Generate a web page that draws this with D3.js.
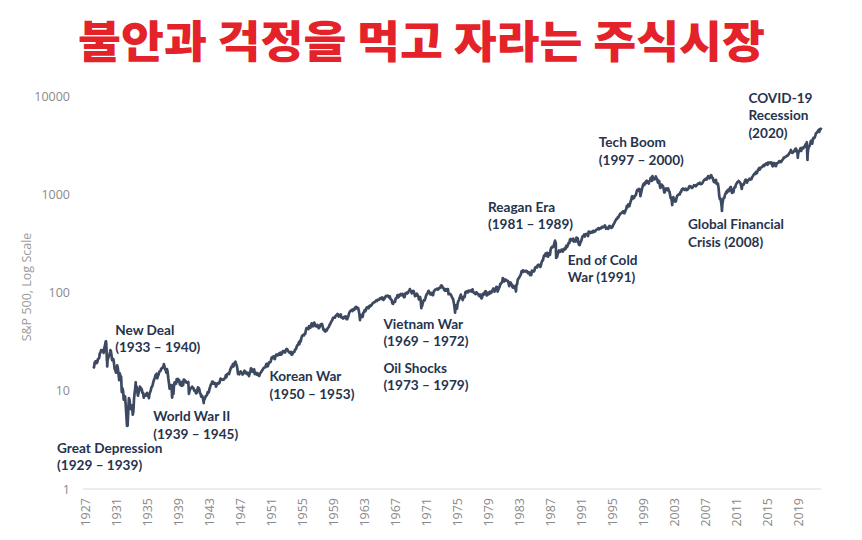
<!DOCTYPE html>
<html><head><meta charset="utf-8">
<script src="https://cdn.jsdelivr.net/npm/d3@7"></script>
<style>html,body{margin:0;padding:0;background:#fff;} svg{display:block}</style>
</head><body><svg id="chart" width="862" height="540"></svg>
<script>
// ---------------- DATA ----------------
const chartTitle = "불안과 걱정을 먹고 자라는 주식시장";
const yAxisTitle = "S&P 500, Log Scale";
const yTickValues = [1, 10, 100, 1000, 10000];
const xTickLabels = ["1927","1931","1935","1939","1943","1947","1951","1955","1959","1963","1967","1971",
  "1975","1979","1983","1987","1991","1995","1999","2003","2007","2011","2015","2019"];

// first observation
const firstDate = "1927-12-30";
const firstValue = 17.66;

// month-end closes, each block starting in January of its start year
const monthly1920s = [ // from 1928
  17.6,17.3,19.3,19.8,20.0,19.1,19.4,20.9,21.2,21.7,24.1,24.4,
  25.9,25.3,25.6,26.0,24.3,27.3,28.8,31.7,30.0,22.9,20.6,21.5];
const monthly1930s = [
  22.8,23.3,25.1,25.5,23.3,20.5,21.2,21.0,18.9,16.6,16.2,15.3,
  16.3,18.1,16.9,14.8,12.8,15.0,13.9,13.9,9.7,10.6,10.0,8.1,
  8.3,8.8,7.3,5.8,4.5,4.4,6.1,8.4,8.1,6.9,6.5,6.9,
  7.1,5.7,6.2,8.3,9.6,10.9,10.1,11.0,9.8,8.9,9.5,10.1,
  11.0,10.7,10.6,10.3,9.5,9.5,8.5,9.1,8.9,8.9,9.3,9.5,
  9.1,8.9,8.4,9.3,9.7,10.1,10.9,11.0,11.6,12.4,13.0,13.4,
  14.3,14.6,14.9,13.4,14.1,14.6,15.6,15.7,15.9,16.8,16.8,17.2,
  17.6,18.1,17.9,16.6,16.4,15.3,16.6,15.5,13.4,12.0,10.5,10.6,
  10.8,11.4,8.5,9.7,9.3,11.6,12.2,11.7,11.8,13.1,12.7,13.2,
  12.4,12.8,11.6,11.4,12.1,11.2,12.4,11.4,13.0,12.9,12.4,12.5];
const monthly1940s = [
  12.1,12.2,12.2,12.3,9.3,10.0,10.4,10.7,10.7,11.0,10.7,10.6,
  10.1,9.9,10.0,9.4,9.5,10.2,10.8,10.7,10.4,9.5,9.3,8.7,
  8.9,8.7,8.2,7.8,8.2,8.4,8.8,8.9,9.1,9.7,9.5,9.8,
  10.6,11.0,11.6,11.7,12.4,12.4,11.8,11.8,12.0,11.8,11.0,11.5,
  11.9,11.8,12.1,11.9,12.6,13.3,13.0,13.0,12.9,13.0,13.0,13.3,
  13.5,14.3,13.7,14.7,14.9,15.0,14.8,15.6,16.4,17.0,17.7,17.4,
  18.7,17.7,18.7,19.3,19.8,18.9,18.1,16.7,14.8,14.8,14.7,15.3,
  15.7,15.4,15.2,14.6,14.8,15.3,16.0,15.8,15.1,15.3,14.8,15.3,
  14.7,14.1,15.1,15.5,16.9,16.7,15.7,15.9,15.5,16.5,14.8,15.2,
  15.2,14.6,15.1,14.7,14.2,14.2,15.0,15.2,15.6,16.0,16.3,16.8];
const monthly1950s = [
  17.1,17.2,17.3,18.0,18.8,17.7,17.8,18.4,19.5,19.5,19.5,20.4,
  21.7,22.0,21.5,22.4,21.5,21.0,22.4,23.3,23.3,22.9,23.0,23.8,
  24.1,23.3,24.4,23.3,23.9,25.0,25.4,25.0,24.5,24.5,26.0,26.6,
  26.4,25.9,25.3,24.6,24.5,24.1,24.8,23.3,23.4,24.5,24.8,24.8,
  26.1,26.2,26.9,28.3,29.2,29.2,31.0,29.8,32.3,31.7,34.2,36.0,
  36.6,37.0,36.6,38.0,37.9,41.0,43.5,43.2,43.7,42.3,45.5,45.5,
  43.8,45.3,48.5,48.4,45.2,47.0,49.4,47.5,45.4,45.6,45.1,46.7,
  44.7,43.3,44.1,45.7,47.4,47.4,47.9,45.2,42.4,41.1,41.7,40.0,
  41.7,40.8,42.1,43.4,44.1,45.2,47.2,48.0,50.1,51.3,52.5,55.2,
  55.4,55.4,55.4,57.6,58.7,58.5,60.5,59.6,56.9,57.5,58.3,59.9];
const monthly1960s = [
  55.6,56.1,55.3,54.4,55.8,56.9,55.5,57.0,53.5,53.4,55.5,58.1,
  61.8,63.4,65.1,65.3,66.6,64.6,66.8,68.1,66.7,68.6,71.3,71.6,
  68.8,70.0,69.6,65.2,59.6,54.8,58.2,59.1,56.3,56.5,62.3,63.1,
  66.2,64.3,66.6,69.8,70.8,69.4,69.1,72.5,71.7,74.0,73.2,75.0,
  77.0,77.8,79.0,79.5,80.4,81.7,83.2,82.0,84.2,84.9,84.4,84.8,
  87.6,87.4,86.2,89.1,88.4,84.1,85.3,87.2,90.0,92.4,91.6,92.4,
  92.9,91.2,89.2,91.1,86.1,84.7,83.6,77.1,76.6,80.2,80.5,80.3,
  86.6,86.8,90.2,94.0,89.1,90.6,94.8,93.6,96.7,93.9,94.0,96.5,
  92.2,89.4,90.2,97.6,98.7,99.6,97.7,98.9,102.7,103.4,108.4,103.9,
  103.0,98.1,101.5,103.7,103.5,97.7,91.8,95.5,93.1,97.2,93.8,92.1];
const monthly1970s = [
  85.0,89.5,89.6,81.5,76.6,72.7,78.1,81.5,84.3,83.3,87.2,92.2,
  95.9,96.8,100.3,104.0,99.6,99.7,95.6,99.0,98.3,94.2,94.0,102.1,
  103.9,106.6,107.2,107.7,109.5,107.1,107.4,111.1,110.6,111.6,116.7,118.1,
  116.0,111.7,111.5,107.0,105.0,104.3,108.2,104.3,108.4,108.3,96.0,97.6,
  96.6,96.2,94.0,90.3,87.3,86.0,79.3,72.2,63.5,73.9,70.0,68.6,
  77.0,81.6,83.4,87.3,91.2,95.2,88.8,86.9,83.9,89.0,91.2,90.2,
  100.9,99.7,102.8,101.6,100.2,104.3,103.4,102.9,105.2,102.9,102.1,107.5,
  102.0,99.8,98.4,98.4,96.1,100.5,98.9,96.8,96.5,92.3,94.8,95.1,
  89.3,87.0,89.2,97.0,97.2,95.5,100.7,103.3,102.5,93.2,94.7,96.1,
  99.9,96.3,101.6,101.8,99.1,102.9,103.8,109.3,109.3,101.8,106.2,107.9];
const monthly1980s = [
  114.2,113.7,102.1,106.3,111.2,114.2,121.7,122.4,125.5,127.5,140.5,135.8,
  129.6,131.3,136.0,132.8,132.6,131.2,130.9,122.8,116.2,121.9,126.4,122.6,
  120.4,113.1,112.0,116.4,111.9,109.6,107.1,119.5,120.4,133.7,138.5,140.6,
  145.3,148.1,153.0,164.4,162.4,168.1,162.6,164.4,166.1,163.6,166.4,164.9,
  163.4,157.1,159.2,160.1,150.6,153.2,150.7,166.7,166.1,166.1,163.6,167.2,
  179.6,181.2,180.7,179.8,189.6,191.9,190.9,188.6,182.1,189.8,202.2,211.3,
  211.8,226.9,238.9,235.5,247.4,250.8,236.1,252.9,231.3,244.0,249.2,242.2,
  274.1,284.2,291.7,288.4,290.1,304.0,318.7,329.8,321.8,251.8,230.3,247.1,
  257.1,267.8,258.9,261.3,262.2,273.5,272.0,261.5,271.9,279.0,273.7,277.7,
  297.5,288.9,294.9,309.6,320.5,318.0,346.1,351.5,349.2,340.4,346.0,353.4];
const monthly1990s = [
  329.1,331.9,339.9,330.8,361.2,358.0,356.2,322.6,306.1,304.0,322.2,330.2,
  343.9,367.1,375.2,375.3,389.8,371.2,387.8,395.4,387.9,392.5,375.2,417.1,
  408.8,412.7,403.7,415.0,415.4,408.1,424.2,414.0,417.8,418.7,431.4,435.7,
  438.8,443.4,451.7,440.2,450.2,450.5,448.1,463.6,458.9,467.8,461.8,466.5,
  481.6,467.1,445.8,450.9,456.5,444.3,458.3,475.5,462.7,472.4,453.7,459.3,
  470.4,487.4,500.7,514.7,533.4,544.8,562.1,561.9,584.4,581.5,605.4,615.9,
  636.0,640.4,645.5,654.2,669.1,670.6,640.0,652.0,687.3,705.3,757.0,740.7,
  786.2,790.8,757.1,801.3,848.3,885.1,954.3,899.5,947.3,914.6,955.4,970.4,
  980.3,1049.3,1101.8,1111.8,1090.8,1133.8,1120.7,957.3,1017.0,1098.7,1163.6,1229.2,
  1279.6,1238.3,1286.4,1335.2,1301.8,1372.7,1328.7,1320.4,1282.7,1362.9,1388.9,1469.3];
const monthly2000s = [
  1394.5,1366.4,1498.6,1452.4,1420.6,1454.6,1430.8,1517.7,1436.5,1429.4,1315.0,1320.3,
  1366.0,1239.9,1160.3,1249.5,1255.8,1224.4,1211.2,1133.6,1040.9,1059.8,1139.5,1148.1,
  1130.2,1106.7,1147.4,1076.9,1067.1,989.8,911.6,916.1,815.3,885.8,936.3,879.8,
  855.7,841.2,848.2,916.9,963.6,974.5,990.3,1008.0,996.0,1050.7,1058.2,1111.9,
  1131.1,1144.9,1126.2,1107.3,1120.7,1140.8,1101.7,1104.2,1114.6,1130.2,1173.8,1211.9,
  1181.3,1203.6,1180.6,1156.9,1191.5,1191.3,1234.2,1220.3,1228.8,1207.0,1249.5,1248.3,
  1280.1,1280.7,1294.8,1310.6,1270.1,1270.2,1276.7,1303.8,1335.9,1377.9,1400.6,1418.3,
  1438.2,1406.8,1420.9,1482.4,1530.6,1503.4,1455.3,1474.0,1526.8,1549.4,1481.1,1468.4,
  1378.6,1330.6,1322.7,1385.6,1400.4,1280.0,1267.4,1282.8,1166.4,968.8,896.2,903.3,
  825.9,735.1,797.9,872.8,919.1,919.3,987.5,1020.6,1057.1,1036.2,1095.6,1115.1];
const monthly2010s = [
  1073.9,1104.5,1169.4,1186.7,1089.4,1030.7,1101.6,1049.3,1141.2,1183.3,1180.6,1257.6,
  1286.1,1327.2,1325.8,1363.6,1345.2,1320.6,1292.3,1218.9,1131.4,1253.3,1247.0,1257.6,
  1312.4,1365.7,1408.5,1397.9,1310.3,1362.2,1379.3,1406.6,1440.7,1412.2,1416.2,1426.2,
  1498.1,1514.7,1569.2,1597.6,1630.7,1606.3,1685.7,1633.0,1681.6,1756.5,1805.8,1848.4,
  1782.6,1859.5,1872.3,1884.0,1923.6,1960.2,1930.7,2003.4,1972.3,2018.1,2067.6,2058.9,
  1995.0,2104.5,2067.9,2085.5,2107.4,2063.1,2103.8,1972.2,1920.0,2079.4,2080.4,2043.9,
  1940.2,1932.2,2059.7,2065.3,2097.0,2098.9,2173.6,2171.0,2168.3,2126.2,2198.8,2238.8,
  2278.9,2363.6,2362.7,2384.2,2411.8,2423.4,2470.3,2471.7,2519.4,2575.3,2647.6,2673.6,
  2823.8,2713.8,2640.9,2648.1,2705.3,2718.4,2816.3,2901.5,2914.0,2711.7,2760.2,2506.9,
  2704.1,2784.5,2834.4,2945.8,2752.1,2941.8,2980.4,2926.5,2976.7,3037.6,3141.0,3230.8];
const monthly2020s = [
  3225.5,2954.2,2584.6,2912.4,3044.3,3100.3,3271.1,3500.3,3363.0,3270.0,3621.6,3756.1,
  3714.2,3811.2,3972.9,4181.2,4204.1,4297.5,4395.3,4522.7,4307.5,4605.4,4567.0,4766.2];

// intra-month highs and lows that the daily line shows
const spikeDates = ["1929-09-16","1929-10-29","1929-11-13","1930-04-10","1932-06-01","1933-07-18",
  "1937-03-06","1938-03-31","1942-04-28","1962-06-26","1970-05-26","1974-10-03","1982-08-12",
  "1987-08-25","1987-10-19","2000-03-24","2002-10-09","2007-10-09","2009-03-09","2018-12-24",
  "2020-02-19","2020-03-23"];
const spikeValues = [31.9,20.4,17.7,25.9,4.4,12.2,
  18.7,8.5,7.5,52.3,69.3,62.3,102.4,
  336.8,224.8,1527.5,776.8,1565.2,676.5,2351.1,
  3386.2,2237.4];

// annotations: text lines anchored at (year, index level) of the first line
const annotationLines = [
  ["New Deal","(1933 – 1940)"],
  ["Great Depression","(1929 – 1939)"],
  ["World War II","(1939 – 1945)"],
  ["Korean War","(1950 – 1953)"],
  ["Vietnam War","(1969 – 1972)"],
  ["Oil Shocks","(1973 – 1979)"],
  ["Reagan Era","(1981 – 1989)"],
  ["End of Cold","War (1991)"],
  ["Tech Boom","(1997 – 2000)"],
  ["Global Financial","Crisis (2008)"],
  ["COVID-19","Recession","(2020)"]];
const annotationYear  = [1930.9, 1923.4, 1935.8, 1950.8, 1965.5, 1965.5, 1979.0, 1989.3, 1993.3, 2004.8, 2012.6];
const annotationLevel = [41.5, 2.6, 5.5, 14.0, 47.8, 17.0, 745, 214, 3350, 495, 9500];

// ---------------- BUILD ----------------
const parse = d3.timeParse("%Y-%m-%d");
const blocks = [[1928, monthly1920s],[1930, monthly1930s],[1940, monthly1940s],[1950, monthly1950s],
  [1960, monthly1960s],[1970, monthly1970s],[1980, monthly1980s],[1990, monthly1990s],
  [2000, monthly2000s],[2010, monthly2010s],[2020, monthly2020s]];
let series = [{date: parse(firstDate), value: firstValue}];
blocks.forEach(([y0, arr]) => arr.forEach((v, i) => {
  series.push({date: new Date(y0 + Math.floor(i / 12), (i % 12) + 1, 0), value: v});
}));
spikeDates.forEach((d, i) => series.push({date: parse(d), value: spikeValues[i]}));
series.sort((a, b) => a.date - b.date);

const svg = d3.select("#chart");
const x = d3.scaleTime().domain([new Date(1927,0,1), new Date(2019,0,1)]).range([85, 798]);
const y = d3.scaleLog().domain([1, 10000]).range([489, 96]);
const yearToDate = yr => new Date(Math.floor(yr), 0, 1 + Math.round((yr - Math.floor(yr)) * 365));

// title
svg.append("text")
  .attr("x", 421.5).attr("y", 58)
  .attr("text-anchor", "middle")
  .attr("textLength", 687).attr("lengthAdjust", "spacingAndGlyphs")
  .style("font-family", "'Noto Sans CJK KR', sans-serif")
  .style("font-weight", 900).style("font-size", "44px")
  .style("fill", "#e42229")
  .text(chartTitle);

// baseline
svg.append("line")
  .attr("x1", x(new Date(1927,0,1)) - 2).attr("x2", x(new Date(2022,0,1)))
  .attr("y1", y(1)).attr("y2", y(1))
  .attr("stroke", "#d9d9d9").attr("stroke-width", 1.2);

// y axis
const yAxis = svg.append("g").attr("transform", "translate(85,0)")
  .call(d3.axisLeft(y).tickValues(yTickValues).tickFormat(d3.format("d")).tickSize(0).tickPadding(15));
yAxis.select(".domain").remove();
yAxis.selectAll("text").style("font-family", "'Open Sans', sans-serif").style("font-size", "12.5px").style("fill", "#8a8a8a");

// x axis
const xAxis = svg.append("g").attr("transform", `translate(0,${y(1)})`)
  .call(d3.axisBottom(x).tickValues(xTickLabels.map(s => new Date(+s, 0, 1))).tickFormat(d3.timeFormat("%Y")).tickSize(0));
xAxis.select(".domain").remove();
xAxis.selectAll("text")
  .attr("transform", "rotate(-90)")
  .attr("x", -9).attr("y", 0).attr("dy", "0.35em")
  .attr("text-anchor", "end")
  .style("font-family", "'Open Sans', sans-serif").style("font-size", "12.5px").style("fill", "#8a8a8a");

// y-axis title
svg.append("text")
  .attr("transform", "translate(31,287) rotate(-90)")
  .attr("text-anchor", "middle")
  .style("font-family", "'Open Sans', sans-serif").style("font-size", "12.5px").style("fill", "#9a9a9a")
  .text(yAxisTitle);

// line
svg.append("path")
  .datum(series)
  .attr("fill", "none")
  .attr("stroke", "#3d4960")
  .attr("stroke-width", 2.7)
  .attr("stroke-linejoin", "round")
  .attr("d", d3.line().x(d => x(d.date)).y(d => y(d.value)));

// annotations
annotationLines.forEach((lines, i) => {
  const t = svg.append("text")
    .attr("x", x(yearToDate(annotationYear[i])))
    .attr("y", y(annotationLevel[i]))
    .style("font-family", "Lato, sans-serif").style("font-weight", 700).style("font-size", "13.6px")
    .style("fill", "#26334d");
  lines.forEach((l, j) => t.append("tspan")
    .attr("x", x(yearToDate(annotationYear[i])))
    .attr("dy", j === 0 ? "0.35em" : "17.5px")
    .text(l));
});
</script></body></html>
